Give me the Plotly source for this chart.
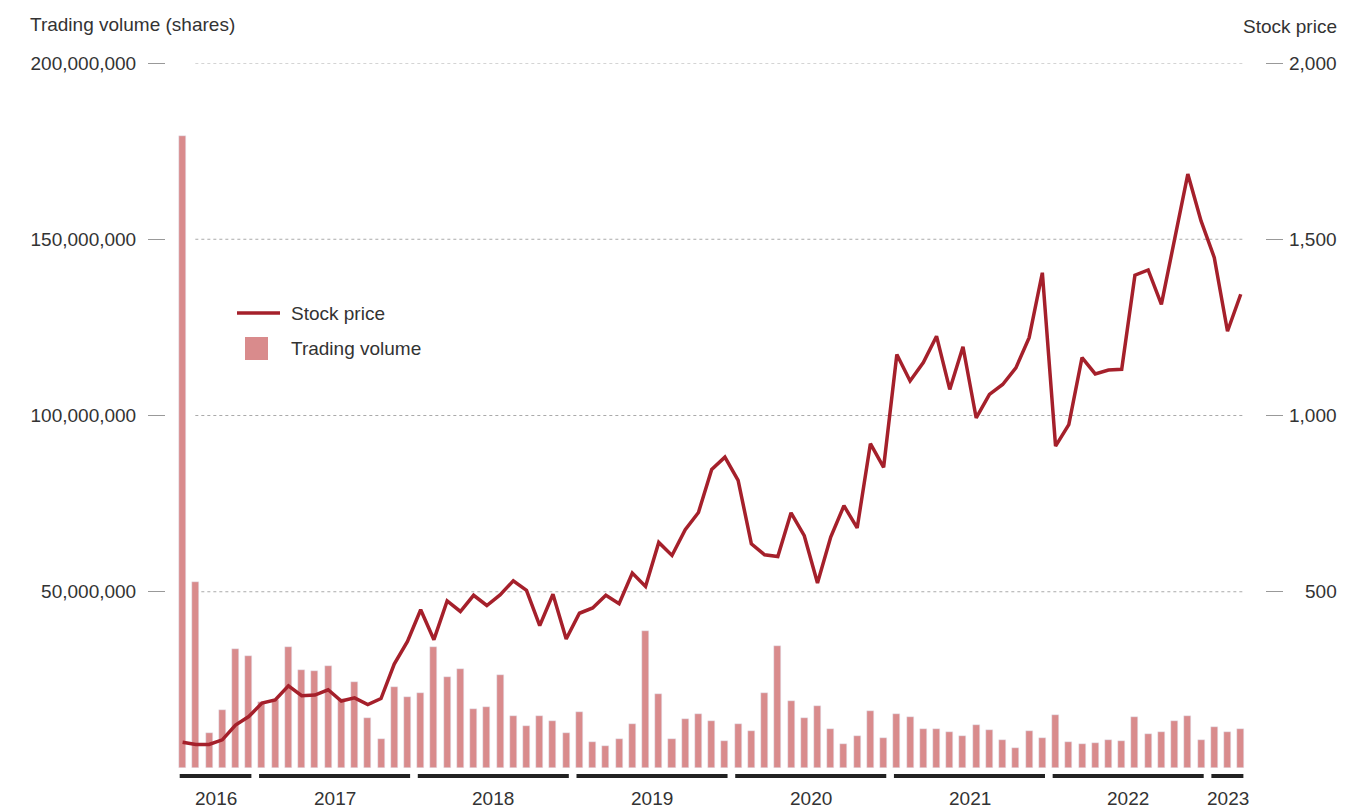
import plotly.graph_objects as go

# monthly data, Jul 2016 - Mar 2023
years = ["2016", "2017", "2018", "2019", "2020", "2021", "2022", "2023"]
months_per_year = [6, 12, 12, 12, 12, 12, 12, 3]

volume_m = [
    179.3, 52.8, 9.9, 16.5, 33.8, 31.8,
    18.7, 19.3, 34.4, 27.8, 27.6, 29.0, 19.5, 24.4, 14.3, 8.3, 23.0, 20.2,
    21.3, 34.4, 25.9, 28.1, 16.8, 17.3, 26.4, 14.8, 11.9, 14.8, 13.4, 9.9,
    15.9, 7.4, 6.3, 8.3, 12.5, 38.9, 21.0, 8.3, 13.9, 15.3, 13.4, 7.7,
    12.5, 10.5, 21.3, 34.7, 19.0, 14.2, 17.6, 11.1, 6.8, 9.1, 16.2, 8.5,
    15.3, 14.5, 11.1, 11.1, 10.2, 9.1, 12.2, 10.8, 8.0, 5.7, 10.5, 8.5,
    15.1, 7.4, 6.8, 7.1, 8.0, 7.7, 14.5, 9.7, 10.2, 13.4, 14.8, 8.0,
    11.6, 10.2, 11.1,
]
price = [
    73, 67, 67, 80, 122, 146,
    184, 193, 233, 205, 207, 222, 190, 199, 180, 197, 295, 359,
    449, 364, 474, 444, 490, 461, 491, 531, 504, 404, 493, 366,
    439, 454, 490, 466, 553, 515, 640, 603, 676, 725, 847, 882,
    816, 636, 605, 600, 724, 659, 525, 655, 744, 681, 920, 853,
    1173, 1098, 1150, 1225, 1074, 1195, 993, 1060, 1088, 1135, 1221, 1405,
    913, 974, 1164, 1118, 1129, 1131, 1398, 1413, 1315, 1495, 1685, 1552,
    1448, 1239, 1344,
]
vol_ticks = [50_000_000, 100_000_000, 150_000_000, 200_000_000]
price_ticks = [500, 1000, 1500, 2000]

volume = [v * 1_000_000 for v in volume_m]
x = list(range(len(volume)))

BAR = "#d98b8c"
LINE = "#a5202b"
TEXT = "#333333"
FONT = "Liberation Sans, Arial, sans-serif"

W, H = 1345, 810
L, R, T, B = 100, 40, 63, 42
PW = W - L - R
PH = H - T - B


def px(xp):
    return (xp - L) / PW


def py(yp):
    return (H - B - yp) / PH


fig = go.Figure()
fig.add_trace(go.Bar(x=x, y=volume, marker_color=BAR, width=0.53,
                     name="Trading volume", yaxis="y"))
fig.add_trace(go.Scatter(x=x, y=price, mode="lines", name="Stock price",
                         line=dict(color=LINE, width=3.5), yaxis="y2"))

shapes = []
annotations = []

# dotted gridlines
for v in vol_ticks:
    shapes.append(dict(type="line", xref="x domain", yref="y", x0=0.018, x1=0.995,
                       y0=v, y1=v, line=dict(color="#aaaaaa", width=1.2, dash="dot"),
                       layer="below"))

# right axis labels (right-aligned)
for p in price_ticks:
    annotations.append(dict(xref="paper", yref="y2", x=px(1339), y=p, xanchor="right",
                            yanchor="middle", text=f"{p:,}", showarrow=False,
                            font=dict(size=19, color=TEXT, family=FONT)))

# year underlines + labels
start = 0
for yr, n in zip(years, months_per_year):
    first, last = start, start + n - 1
    shapes.append(dict(type="line", xref="x", yref="paper", x0=first - 0.22, x1=last + 0.2,
                       y0=py(776), y1=py(776), line=dict(color="#222222", width=4)))
    annotations.append(dict(xref="x", yref="paper", x=(first + last) / 2, y=py(798),
                            xanchor="center", yanchor="middle", text=yr, showarrow=False,
                            font=dict(size=19, color=TEXT, family=FONT)))
    start += n

# axis titles
annotations.append(dict(xref="paper", yref="paper", x=px(28), y=py(25), xanchor="left",
                        yanchor="middle", text="Trading volume (shares)", showarrow=False,
                        font=dict(size=19, color=TEXT, family=FONT)))
annotations.append(dict(xref="paper", yref="paper", x=px(1339), y=py(27), xanchor="right",
                        yanchor="middle", text="Stock price", showarrow=False,
                        font=dict(size=19, color=TEXT, family=FONT)))

# legend
shapes.append(dict(type="line", xref="paper", yref="paper", x0=px(237), x1=px(280),
                   y0=py(313), y1=py(313), line=dict(color=LINE, width=3.5)))
shapes.append(dict(type="rect", xref="paper", yref="paper", x0=px(245), x1=px(268),
                   y0=py(360), y1=py(337), fillcolor=BAR, line=dict(width=0)))
annotations.append(dict(xref="paper", yref="paper", x=px(289), y=py(313), xanchor="left",
                        yanchor="middle", text="Stock price", showarrow=False,
                        font=dict(size=19, color=TEXT, family=FONT)))
annotations.append(dict(xref="paper", yref="paper", x=px(289), y=py(348), xanchor="left",
                        yanchor="middle", text="Trading volume", showarrow=False,
                        font=dict(size=19, color=TEXT, family=FONT)))

fig.update_layout(
    width=W, height=H,
    margin=dict(l=L, r=R, t=T, b=B),
    paper_bgcolor="white", plot_bgcolor="white",
    showlegend=False,
    bargap=0,
    font=dict(family=FONT, color=TEXT, size=19),
    xaxis=dict(domain=[px(176), px(1250)], range=[-0.5, len(x) - 0.3],
               showgrid=False, zeroline=False, showticklabels=False, ticks=""),
    yaxis=dict(range=[0, 200_000_000], anchor="free", position=px(165), side="left",
               tickvals=vol_ticks, ticktext=[f"{v:,}" for v in vol_ticks],
               ticks="outside", ticklen=17, tickwidth=1.3, tickcolor="#999999",
               ticklabelstandoff=8, showgrid=False, zeroline=False, showline=False,
               tickfont=dict(size=19, color=TEXT, family=FONT)),
    yaxis2=dict(range=[0, 2000], overlaying="y", anchor="free", position=px(1265),
                side="right", tickvals=price_ticks, ticks="outside", ticklen=17,
                tickwidth=1.3, tickcolor="#999999", showticklabels=False,
                showgrid=False, zeroline=False, showline=False),
    shapes=shapes,
    annotations=annotations,
)

# drop the page's default 8px body margin so the figure fills the window
fig.write_html("out.html", config={"displayModeBar": False},
               post_script="document.body.style.margin='0px';")
